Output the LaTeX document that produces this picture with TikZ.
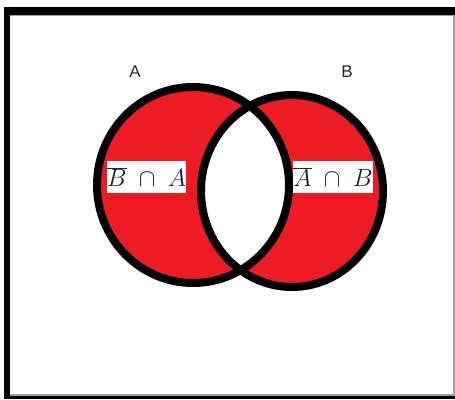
\documentclass[tikz,border=0pt]{standalone}
\usepackage{fontspec}
\newfontfamily\labfont{Liberation Sans}
\definecolor{vred}{HTML}{ED1C24}
\definecolor{txtc}{HTML}{18203A}
\definecolor{edgegray}{HTML}{A0A0A0}
\begin{document}
\begin{tikzpicture}[x=1pt,y=-1pt,
  setlabel/.style={fill=white,inner sep=0pt,minimum width=79pt,minimum height=32pt,text=txtc,font=\fontsize{24}{26}\selectfont},
  setname/.style={font=\labfont\fontsize{17}{19}\selectfont,inner sep=0pt,text=black!85},
  ring/.style={line width=8pt}]
\useasboundingbox (0,0) rectangle (455,399);
\fill[white] (0,0) rectangle (455,399);
% frame
\fill[black] (4,7) rectangle (455,15);
\fill[black] (4,7) rectangle (10,399);
\fill[black] (4,396) rectangle (455,399);
\draw[edgegray,line width=1pt] (10,15.5) -- (454,15.5);
\draw[edgegray,line width=1.2pt] (454,15) -- (454,396);
\draw[edgegray,line width=1.2pt] (10,395) -- (454,395);
% fills
\fill[vred] (193,185) ellipse [x radius=96, y radius=98];
\fill[vred] (292,191) ellipse [x radius=91, y radius=96];
\begin{scope}
  \clip (193,185) ellipse [x radius=96, y radius=98];
  \fill[white] (292,191) ellipse [x radius=91, y radius=96];
\end{scope}
% labels
\node[setlabel] (lA) at (146.5,177) {$\overline{B}\;\cap\;A$};
\node[setlabel] (lB) at (333,177) {$\overline{A}\;\cap\;B$};
% outlines
\draw[ring] (193,185) ellipse [x radius=96, y radius=98];
\draw[ring] (292,191) ellipse [x radius=91, y radius=96];
% names
\node[setname] (nA) at (135,72) {A};
\node[setname] (nB) at (347,72) {B};
\end{tikzpicture}
\end{document}
